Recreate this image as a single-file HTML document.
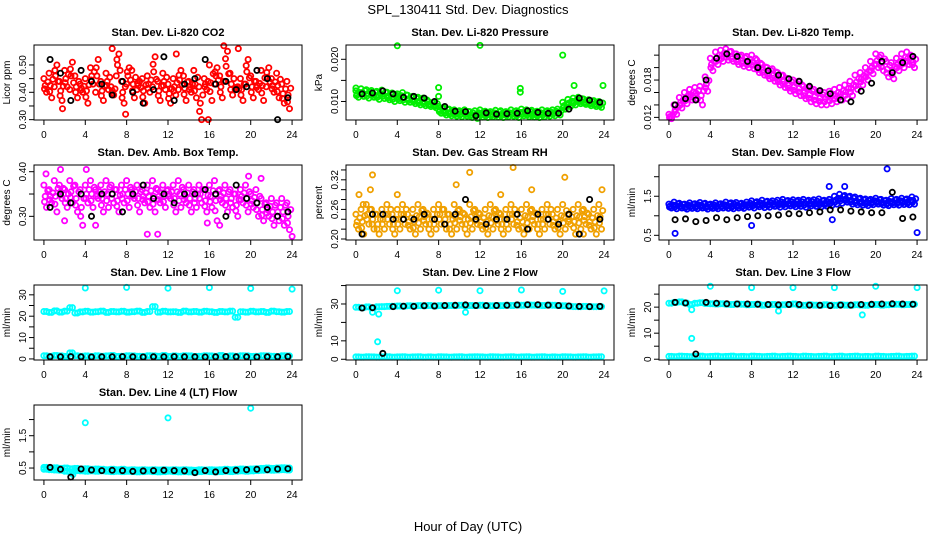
<!DOCTYPE html>
<html><head><meta charset="utf-8"><style>
body{margin:0;background:#fff;}
svg{display:block;font-family:"Liberation Sans",sans-serif;}
</style></head><body>
<svg id="chart" width="936" height="540" viewBox="0 0 936 540" xmlns="http://www.w3.org/2000/svg">
<text x="468" y="14" text-anchor="middle" font-size="13">SPL_130411  Std. Dev. Diagnostics</text>
<text x="468" y="531" text-anchor="middle" font-size="13">Hour of Day (UTC)</text>
</svg>
<script>
const tHalf=[0,0.5,1,1.5,2,2.5,3,3.5,4,4.5,5,5.5,6,6.5,7,7.5,8,8.5,9,9.5,10,10.5,11,11.5,12,12.5,13,13.5,14,14.5,15,15.5,16,16.5,17,17.5,18,18.5,19,19.5,20,20.5,21,21.5,22,22.5,23,23.5];
const tHour=[0.6,1.6,2.6,3.6,4.6,5.6,6.6,7.6,8.6,9.6,10.6,11.6,12.6,13.6,14.6,15.6,16.6,17.6,18.6,19.6,20.6,21.6,22.6,23.6];
const xTicks=[0,4,8,12,16,20,24];

const co2A=[.45,.47,.42,.44,.48,.41,.46,.43,.45,.49,.40,.44,.47,.42,.46,.44,.43,.48,.41,.45,.46,.42,.44,.47,.43,.45,.41,.46,.44,.48,.42,.45,.50,.43,.46,.44,.47,.41,.45,.43,.46,.44,.48,.42,.45,.47,.43,.44];
const co2B=[.40,.38,.50,.37,.42,.51,.38,.40,.36,.43,.52,.37,.41,.39,.54,.36,.49,.38,.44,.36,.40,.53,.37,.41,.36,.39,.48,.37,.40,.38,.30,.41,.37,.49,.38,.55,.39,.42,.37,.52,.38,.41,.37,.49,.40,.38,.36,.34];
const co2K=[.52,.47,.37,.48,.44,.43,.39,.44,.40,.36,.41,.53,.37,.43,.45,.52,.43,.44,.41,.42,.48,.45,.30,.38];
const co2OutT=[1.8,6.6,7.9,17.4,18.8,12.8,15.9];
const co2OutV=[.34,.56,.32,.57,.56,.54,.30];

const prsA=[.0125,.0130,.0128,.0126,.0124,.0127,.0122,.0120,.0118,.0121,.0115,.0112,.0110,.0108,.0100,.0098,.0088,.0085,.0082,.0080,.0078,.0080,.0076,.0078,.0080,.0077,.0076,.0079,.0078,.0076,.0080,.0078,.0082,.0080,.0079,.0077,.0080,.0078,.0080,.0082,.0098,.0105,.0108,.0110,.0106,.0104,.0102,.0100];
const prsB=[.0110,.0112,.0108,.0110,.0105,.0107,.0104,.0100,.0102,.0098,.0098,.0095,.0092,.0090,.0088,.0085,.0072,.0068,.0066,.0065,.0064,.0065,.0062,.0060,.0063,.0062,.0064,.0063,.0062,.0064,.0065,.0062,.0066,.0064,.0063,.0062,.0064,.0065,.0066,.0068,.0082,.0088,.0092,.0095,.0093,.0090,.0088,.0086];
const prsK=[.0118,.0120,.0125,.0118,.0110,.0112,.0108,.0100,.0088,.0077,.0076,.0066,.0073,.0070,.0071,.0072,.0078,.0074,.0072,.0072,.0082,.0108,.0103,.0098];
const prsOutT=[4,12,20,0,8,8,15.9,15.9,21.1,23.9];
const prsOutV=[.0232,.0233,.0210,.0132,.0133,.0112,.0131,.0122,.0138,.0138];

const tmpA=[.0125,.0140,.0152,.0160,.0165,.0168,.0170,.0185,.0215,.0225,.0228,.0230,.0226,.0222,.0220,.0218,.0220,.0212,.0205,.0200,.0198,.0192,.0188,.0182,.0180,.0178,.0170,.0168,.0165,.0162,.0160,.0162,.0165,.0168,.0172,.0178,.0188,.0192,.0200,.0210,.0222,.0220,.0210,.0208,.0215,.0222,.0225,.0218];
const tmpB=[.0118,.0125,.0135,.0142,.0148,.0150,.0140,.0162,.0195,.0205,.0210,.0212,.0210,.0205,.0202,.0200,.0198,.0192,.0188,.0182,.0178,.0172,.0168,.0162,.0158,.0155,.0150,.0145,.0142,.0140,.0140,.0142,.0145,.0148,.0150,.0155,.0165,.0172,.0180,.0190,.0200,.0195,.0185,.0182,.0195,.0200,.0205,.0200];
const tmpK=[.0140,.0150,.0148,.0180,.0215,.0222,.0218,.0210,.0200,.0195,.0188,.0182,.0178,.0170,.0163,.0158,.0148,.0145,.0162,.0175,.0210,.0192,.0208,.0218];
const tmpOutT=[];
const tmpOutV=[];

const ambA=[.37,.36,.38,.37,.36,.38,.37,.36,.37,.38,.36,.37,.38,.37,.36,.37,.38,.36,.37,.36,.37,.38,.36,.37,.36,.37,.38,.36,.37,.36,.37,.36,.37,.38,.36,.37,.36,.35,.36,.37,.35,.36,.34,.33,.34,.33,.34,.33];
const ambB=[.32,.33,.31,.34,.32,.33,.31,.28,.33,.32,.34,.31,.32,.33,.31,.33,.32,.34,.31,.33,.32,.31,.33,.32,.34,.31,.32,.33,.31,.32,.33,.31,.32,.29,.33,.31,.32,.30,.33,.31,.32,.30,.29,.30,.28,.29,.28,.27];
const ambK=[.32,.35,.33,.35,.30,.35,.35,.31,.35,.37,.34,.35,.33,.35,.35,.36,.35,.30,.37,.34,.33,.32,.30,.31];
const ambOutT=[0.2,1.6,4.1,2,5,10,11,15.8,17,19.8,21,24];
const ambOutV=[.395,.405,.405,.29,.28,.26,.26,.285,.28,.39,.385,.255];

const rhA=[.25,.26,.27,.26,.25,.26,.27,.25,.26,.27,.25,.26,.27,.26,.25,.26,.27,.26,.25,.27,.26,.25,.27,.26,.25,.26,.27,.26,.25,.26,.27,.25,.26,.27,.26,.25,.26,.27,.25,.26,.27,.25,.26,.27,.26,.25,.26,.27];
const rhB=[.22,.21,.23,.22,.21,.22,.23,.21,.22,.23,.22,.21,.22,.23,.21,.22,.23,.22,.21,.22,.23,.21,.22,.23,.22,.21,.22,.23,.21,.22,.23,.22,.21,.22,.23,.21,.22,.23,.22,.21,.22,.23,.21,.22,.23,.22,.21,.22];
const rhK=[.21,.25,.25,.24,.24,.24,.25,.24,.23,.25,.28,.24,.23,.24,.24,.25,.22,.25,.24,.23,.25,.21,.28,.24];
const rhOutT=[0.3,1.6,1.4,4,9.7,11,15.2,20.2,23.8,14,17,0.7,22];
const rhOutV=[.29,.33,.30,.29,.31,.335,.345,.325,.30,.29,.30,.27,.21];

const smpA=[1.30,1.35,1.32,1.30,1.33,1.31,1.34,1.32,1.30,1.33,1.31,1.35,1.33,1.34,1.32,1.35,1.38,1.36,1.40,1.37,1.38,1.40,1.42,1.39,1.41,1.40,1.42,1.40,1.41,1.43,1.40,1.42,1.50,1.55,1.52,1.50,1.48,1.45,1.43,1.42,1.45,1.42,1.40,1.44,1.42,1.45,1.43,1.48];
const smpB=[1.20,1.18,1.20,1.17,1.19,1.18,1.20,1.17,1.19,1.18,1.20,1.19,1.18,1.20,1.19,1.22,1.20,1.23,1.21,1.22,1.24,1.22,1.23,1.25,1.23,1.24,1.22,1.25,1.24,1.23,1.25,1.26,1.30,1.32,1.35,1.30,1.28,1.27,1.26,1.28,1.30,1.27,1.26,1.28,1.27,1.29,1.28,1.30];
const smpK=[.90,.92,.85,.88,.95,.90,.95,.98,1.0,1.0,1.02,1.05,1.05,1.08,1.10,1.15,1.15,1.12,1.10,1.08,1.08,1.6,.93,.97];
const smpOutT=[0.6,8,15.5,17,21.1,24,15.8];
const smpOutV=[.55,.75,1.75,1.75,2.2,.57,.9];

const l1A=[22.2,21.8,22.5,21.9,22.4,24,21.5,22.0,22.3,21.9,22.1,22.4,21.8,22.2,22.0,22.3,21.9,22.1,22.4,21.8,22.2,24.5,21.9,22.3,22.0,22.1,21.8,22.4,22.0,22.2,21.9,22.3,22.1,21.8,22.2,22.0,22.4,19.5,22.1,21.9,22.3,22.0,22.2,21.8,22.4,22.1,21.9,22.2];
const l1B=[1.5,1.3,1.6,1.4,1.2,2.8,1.5,1.3,1.4,1.2,1.5,1.3,1.4,1.6,1.2,1.3,1.5,1.4,1.3,1.2,1.5,1.4,1.3,1.6,1.2,1.4,1.3,1.5,1.4,1.2,1.3,1.5,1.4,1.3,1.6,1.2,1.4,1.3,1.5,1.4,1.2,1.3,1.5,1.4,1.3,1.2,1.5,1.4];
const l1K=[1.0,1.0,1.1,1.0,0.9,1.0,1.0,1.1,1.0,0.9,1.0,1.0,1.1,1.0,1.0,0.9,1.0,1.1,1.0,1.0,0.9,1.0,1.0,1.1];
const l1OutT=[4,8,12,16,20,24];
const l1OutV=[33.2,33.5,33.1,33.4,33.0,32.7];

const l2A=[28.2,28.0,28.4,27.9,28.5,28.6,28.7,28.8,28.9,28.8,29.0,28.9,29.1,29.0,29.2,28.9,29.1,29.0,29.2,29.1,29.3,29.0,29.2,29.1,29.3,29.1,29.0,29.2,29.1,29.3,29.2,29.4,29.3,29.5,29.4,29.3,29.2,29.4,29.3,29.1,29.0,28.8,28.6,28.5,28.7,28.6,28.5,28.6];
const l2B=[1.3,1.2,1.4,1.3,1.2,1.3,1.4,1.2,1.3,1.4,1.2,1.3,1.4,1.2,1.3,1.2,1.4,1.3,1.2,1.3,1.4,1.2,1.3,1.4,1.3,1.2,1.4,1.3,1.2,1.3,1.4,1.2,1.3,1.4,1.2,1.3,1.4,1.2,1.3,1.2,1.4,1.3,1.2,1.3,1.4,1.2,1.3,1.4];
const l2K=[27.8,28.0,3.2,28.6,28.8,28.7,29.0,28.9,29.2,29.3,29.5,29.2,29.1,29.2,29.3,29.5,29.6,29.6,29.4,29.2,28.9,28.7,28.6,28.7];
const l2OutT=[4,8,12,16,20,24,2.1,1.6,2.2,10.6];
const l2OutV=[37.2,37.5,37.2,37.6,36.8,37.1,9.5,25.5,24.5,25.5];

const l3A=[21.5,21.8,22.0,21.6,21.0,21.5,21.7,21.4,21.3,21.2,21.3,21.1,21.0,21.2,21.1,20.9,21.0,21.1,20.8,20.9,21.0,20.8,20.9,21.0,21.2,20.8,20.7,20.9,20.8,20.7,20.9,20.8,20.7,20.9,20.8,20.7,20.9,20.8,20.7,20.9,21.0,20.8,20.9,21.0,21.1,20.9,21.0,21.1];
const l3B=[1.1,1.0,1.2,1.1,1.0,1.1,1.2,1.0,1.1,1.2,1.0,1.1,1.2,1.0,1.1,1.0,1.2,1.1,1.0,1.1,1.2,1.0,1.1,1.2,1.1,1.0,1.2,1.1,1.0,1.1,1.2,1.0,1.1,1.2,1.0,1.1,1.2,1.0,1.1,1.0,1.2,1.1,1.0,1.1,1.2,1.0,1.1,1.2];
const l3K=[21.8,21.6,2.0,21.8,21.5,21.3,21.2,21.2,21.1,21.0,20.9,21.0,21.0,20.8,20.7,20.6,20.8,20.8,21.0,21.1,21.2,21.3,21.2,21.1];
const l3OutT=[4,8,12,16,20,24,2.2,18.7,10.6,2.2];
const l3OutV=[28.0,27.5,27.5,27.5,28.0,27.5,8.0,17.0,18.5,19.0];

const l4A=[.52,.50,.51,.49,.50,.48,.49,.47,.48,.46,.47,.46,.45,.46,.45,.46,.44,.45,.44,.45,.44,.45,.44,.45,.44,.45,.44,.45,.44,.43,.45,.44,.45,.44,.45,.46,.45,.46,.47,.46,.47,.48,.49,.50,.49,.50,.51,.50];
const l4B=[.46,.45,.44,.43,.40,.38,.42,.41,.40,.41,.40,.41,.40,.39,.40,.39,.40,.39,.38,.39,.40,.39,.38,.39,.40,.39,.38,.39,.38,.37,.39,.40,.39,.38,.39,.40,.39,.40,.41,.40,.41,.42,.43,.44,.43,.44,.45,.44];
const l4K=[.52,.46,.22,.47,.44,.42,.43,.42,.40,.41,.42,.43,.42,.41,.36,.42,.38,.42,.43,.45,.46,.45,.47,.48];
const l4OutT=[4,12,20,2.8];
const l4OutV=[1.9,2.05,2.35,.30];

const panels=[
 {name:'li820-co2',title:'Stan. Dev. Li-820 CO2',ylab:'Licor ppm',c:0,r:0,ymin:.2987,ymax:.573,ticks:[.30,.35,.40,.45,.50],labels:['0.30','','0.40','','0.50'],col:'#ff0000',cloud:true,A:co2A,B:co2B,K:co2K,oT:co2OutT,oV:co2OutV},
 {name:'li820-pressure',title:'Stan. Dev. Li-820 Pressure',ylab:'kPa',c:1,r:0,ymin:.00561,ymax:.02339,ticks:[.010,.015,.020],labels:['0.010','','0.020'],col:'#00ee00',cloud:true,A:prsA,B:prsB,K:prsK,oT:prsOutT,oV:prsOutV},
 {name:'li820-temp',title:'Stan. Dev. Li-820 Temp.',ylab:'degrees C',c:2,r:0,ymin:.01158,ymax:.02363,ticks:[.012,.014,.016,.018,.020,.022],labels:['0.012','','','0.018','',''],col:'#ff00ff',cloud:true,A:tmpA,B:tmpB,K:tmpK,oT:tmpOutT,oV:tmpOutV},
 {name:'amb-box-temp',title:'Stan. Dev. Amb. Box Temp.',ylab:'degrees C',c:0,r:1,ymin:.247,ymax:.415,ticks:[.30,.35,.40],labels:['0.30','','0.40'],col:'#ff00ff',cloud:true,A:ambA,B:ambB,K:ambK,oT:ambOutT,oV:ambOutV},
 {name:'gas-stream-rh',title:'Stan. Dev. Gas Stream RH',ylab:'percent',c:1,r:1,ymin:.198,ymax:.35,ticks:[.20,.22,.24,.26,.28,.30,.32,.34],labels:['0.20','','','0.26','','','0.32',''],col:'#f0a000',cloud:true,A:rhA,B:rhB,K:rhK,oT:rhOutT,oV:rhOutV},
 {name:'sample-flow',title:'Stan. Dev. Sample Flow',ylab:'ml/min',c:2,r:1,ymin:.38,ymax:2.3,ticks:[.5,1,1.5,2],labels:['0.5','','1.5',''],col:'#0000ff',cloud:true,A:smpA,B:smpB,K:smpK,oT:smpOutT,oV:smpOutV},
 {name:'line1-flow',title:'Stan. Dev. Line 1 Flow',ylab:'ml/min',c:0,r:2,ymin:-0.5,ymax:34.6,ticks:[0,5,10,15,20,25,30],labels:['0','','10','','20','','30'],col:'#00ffff',cloud:false,A:l1A,B:l1B,K:l1K,oT:l1OutT,oV:l1OutV},
 {name:'line2-flow',title:'Stan. Dev. Line 2 Flow',ylab:'ml/min',c:1,r:2,ymin:-0.4,ymax:40.3,ticks:[0,10,20,30,40],labels:['0','10','','30',''],col:'#00ffff',cloud:false,A:l2A,B:l2B,K:l2K,oT:l2OutT,oV:l2OutV},
 {name:'line3-flow',title:'Stan. Dev. Line 3 Flow',ylab:'ml/min',c:2,r:2,ymin:-0.3,ymax:28.5,ticks:[0,5,10,15,20,25],labels:['0','','10','','20',''],col:'#00ffff',cloud:false,A:l3A,B:l3B,K:l3K,oT:l3OutT,oV:l3OutV},
 {name:'line4-flow',title:'Stan. Dev. Line 4 (LT) Flow',ylab:'ml/min',c:0,r:3,ymin:.13,ymax:2.45,ticks:[.5,1,1.5,2],labels:['0.5','','1.5',''],col:'#00ffff',cloud:false,A:l4A,B:l4B,K:l4K,oT:l4OutT,oV:l4OutV}
];

const NS='http://www.w3.org/2000/svg';
const svg=document.getElementById('chart');
const colLeft=[34,346,659], boxW=268, rowTop=[45,165,285,405], boxH=75;
function mk(tag,attrs,parent){const e=document.createElementNS(NS,tag);for(const k in attrs)e.setAttribute(k,attrs[k]);parent.appendChild(e);return e;}

panels.forEach(p=>{
  const L=colLeft[p.c],T=rowTop[p.r],R=L+boxW,B=T+boxH;
  const xs=h=>L+boxW*(h+0.96)/25.92;
  const ys=v=>B-boxH*(v-p.ymin)/(p.ymax-p.ymin);
  const g=mk('g',{},svg);
  
  
  const t=mk('text',{x:(L+R)/2,y:T-9,'text-anchor':'middle','font-size':'11','font-weight':'bold'},g);
  
  
  t.textContent=p.title;
  const yl=mk('text',{x:0,y:0,'text-anchor':'middle','font-size':'10',transform:`translate(${L-24},${(T+B)/2}) rotate(-90)`},g);
  
  
  yl.textContent=p.ylab;
  const pts=mk('g',{fill:'none','stroke-width':'1.8'},g);
  
  
  const dot=(h,v,c,nm)=>{const y=ys(v);if(y<T-1||y>B+1)return;const e=mk('circle',{cx:xs(h).toFixed(1),cy:y.toFixed(1),r:2.6,stroke:c},pts);
    
    };
  tHalf.forEach((h,i)=>{
    const a=p.A[i],b=p.B[i];
    if(p.cloud){
      dot(h,a,p.col,'point');dot(h+0.25,b,p.col,'point');
      dot(h+0.12,(a+b)/2,p.col,'point');dot(h+0.37,(a*3+b)/4,p.col,'point');dot(h+0.06,(a+b*3)/4,p.col,'point');
    } else {
      dot(h,a,p.col,'point');dot(h+0.25,a,p.col,'point');
      dot(h,b,p.col,'point');dot(h+0.25,b,p.col,'point');
    }
  });
  p.oT.forEach((h,i)=>dot(h,p.oV[i],p.col,'outlier-point'));
  tHour.forEach((h,i)=>dot(h,p.K[i],'#000','black-point'));
  const bx=mk('rect',{x:L,y:T,width:boxW,height:boxH,fill:'none',stroke:'#000','stroke-width':'1'},g);
  
  
  const xa=mk('g',{stroke:'#000','stroke-width':'1'},g);
  
  
  mk('line',{x1:xs(0),x2:xs(24),y1:B,y2:B},xa);
  xTicks.forEach(v=>{mk('line',{x1:xs(v),x2:xs(v),y1:B,y2:B+5},xa);
    const tl=mk('text',{x:xs(v),y:B+18,'text-anchor':'middle','font-size':'10',stroke:'none',fill:'#000'},xa);
    
    
    tl.textContent=v;});
  const ya=mk('g',{stroke:'#000','stroke-width':'1'},g);
  
  
  mk('line',{x1:L,x2:L,y1:ys(p.ticks[0]),y2:ys(p.ticks[p.ticks.length-1])},ya);
  p.ticks.forEach((v,i)=>{const y=ys(v);mk('line',{x1:L-5,x2:L,y1:y,y2:y},ya);
    if(p.labels[i]){const tl=mk('text',{x:0,y:0,'text-anchor':'middle','font-size':'10',stroke:'none',fill:'#000',transform:`translate(${L-8},${y}) rotate(-90)`},ya);
      
      
      tl.textContent=p.labels[i];}});
});
</script>
</body></html>
